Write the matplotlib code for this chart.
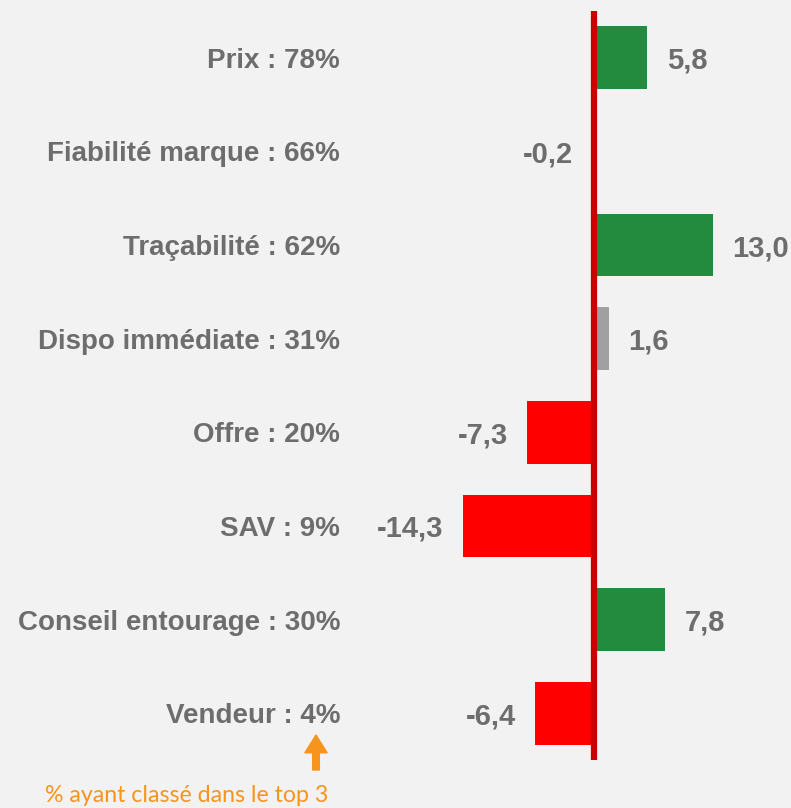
import matplotlib
matplotlib.use('Agg')
import matplotlib.pyplot as plt

# Data
criteres = ['Prix : 78%', 'Fiabilité marque : 66%', 'Traçabilité : 62%',
            'Dispo immédiate : 31%', 'Offre : 20%', 'SAV : 9%',
            'Conseil entourage : 30%', 'Vendeur : 4%']
ecarts = [5.8, -0.2, 13.0, 1.6, -7.3, -14.3, 7.8, -6.4]
couleurs = ['#228b3d', '#a0a0a0', '#228b3d', '#a0a0a0',
            '#ff0000', '#ff0000', '#228b3d', '#ff0000']
note = '% ayant classé dans le top 3'

bg = '#f2f2f2'
gris_txt = '#6d6d6d'
orange = '#f7941d'

plt.rcParams['font.family'] = ['Liberation Sans', 'DejaVu Sans']

W, H = 791, 808
fig = plt.figure(figsize=(W / 100, H / 100), dpi=100, facecolor=bg)

# axes: left edge at the category labels, zero line at x ~594 px
px_per_unit = 9.16
x0 = 594
left_px = 340
ax = fig.add_axes([left_px / W, 48 / H, 1 - left_px / W, 749 / H])
ax.set_facecolor(bg)
ax.set_xlim((left_px - x0) / px_per_unit, (W - x0) / px_per_unit)
ax.set_ylim(len(criteres) - 0.5, -0.5)

pos = range(len(criteres))
ax.barh(pos, ecarts, height=0.67, color=couleurs, zorder=2)
ax.axvline(0, color='#cc0000', lw=4.5, zorder=3)

for i, v in enumerate(ecarts):
    off = 14 if v >= 0 else -14
    ax.annotate(f'{v:.1f}'.replace('.', ','), xy=(v, i), xytext=(off, 0),
                textcoords='offset points', va='center_baseline',
                ha='left' if v >= 0 else 'right',
                fontsize=21, fontweight='bold', color=gris_txt)

ax.set_yticks(list(pos))
ax.set_yticklabels(criteres, fontsize=20, fontweight='bold', color=gris_txt,
                   va='center_baseline')
ax.tick_params(axis='y', length=0, pad=0)
ax.set_xticks([])
for s in ax.spines.values():
    s.set_visible(False)

# note with arrow under the percentages
ax.annotate('', xy=(316, H - 735), xytext=(316, H - 770),
            xycoords='figure pixels', textcoords='figure pixels',
            arrowprops=dict(arrowstyle='simple,head_length=0.8,head_width=1.0,tail_width=0.3',
                            color=orange, mutation_scale=16, shrinkA=0, shrinkB=0))
fig.text(187 / W, 1 - 795 / H, note, ha='center', va='center',
         fontsize=16.7, color=orange, family=['Lato', 'DejaVu Sans'])

fig.savefig('out.png', dpi=100, facecolor=bg)
